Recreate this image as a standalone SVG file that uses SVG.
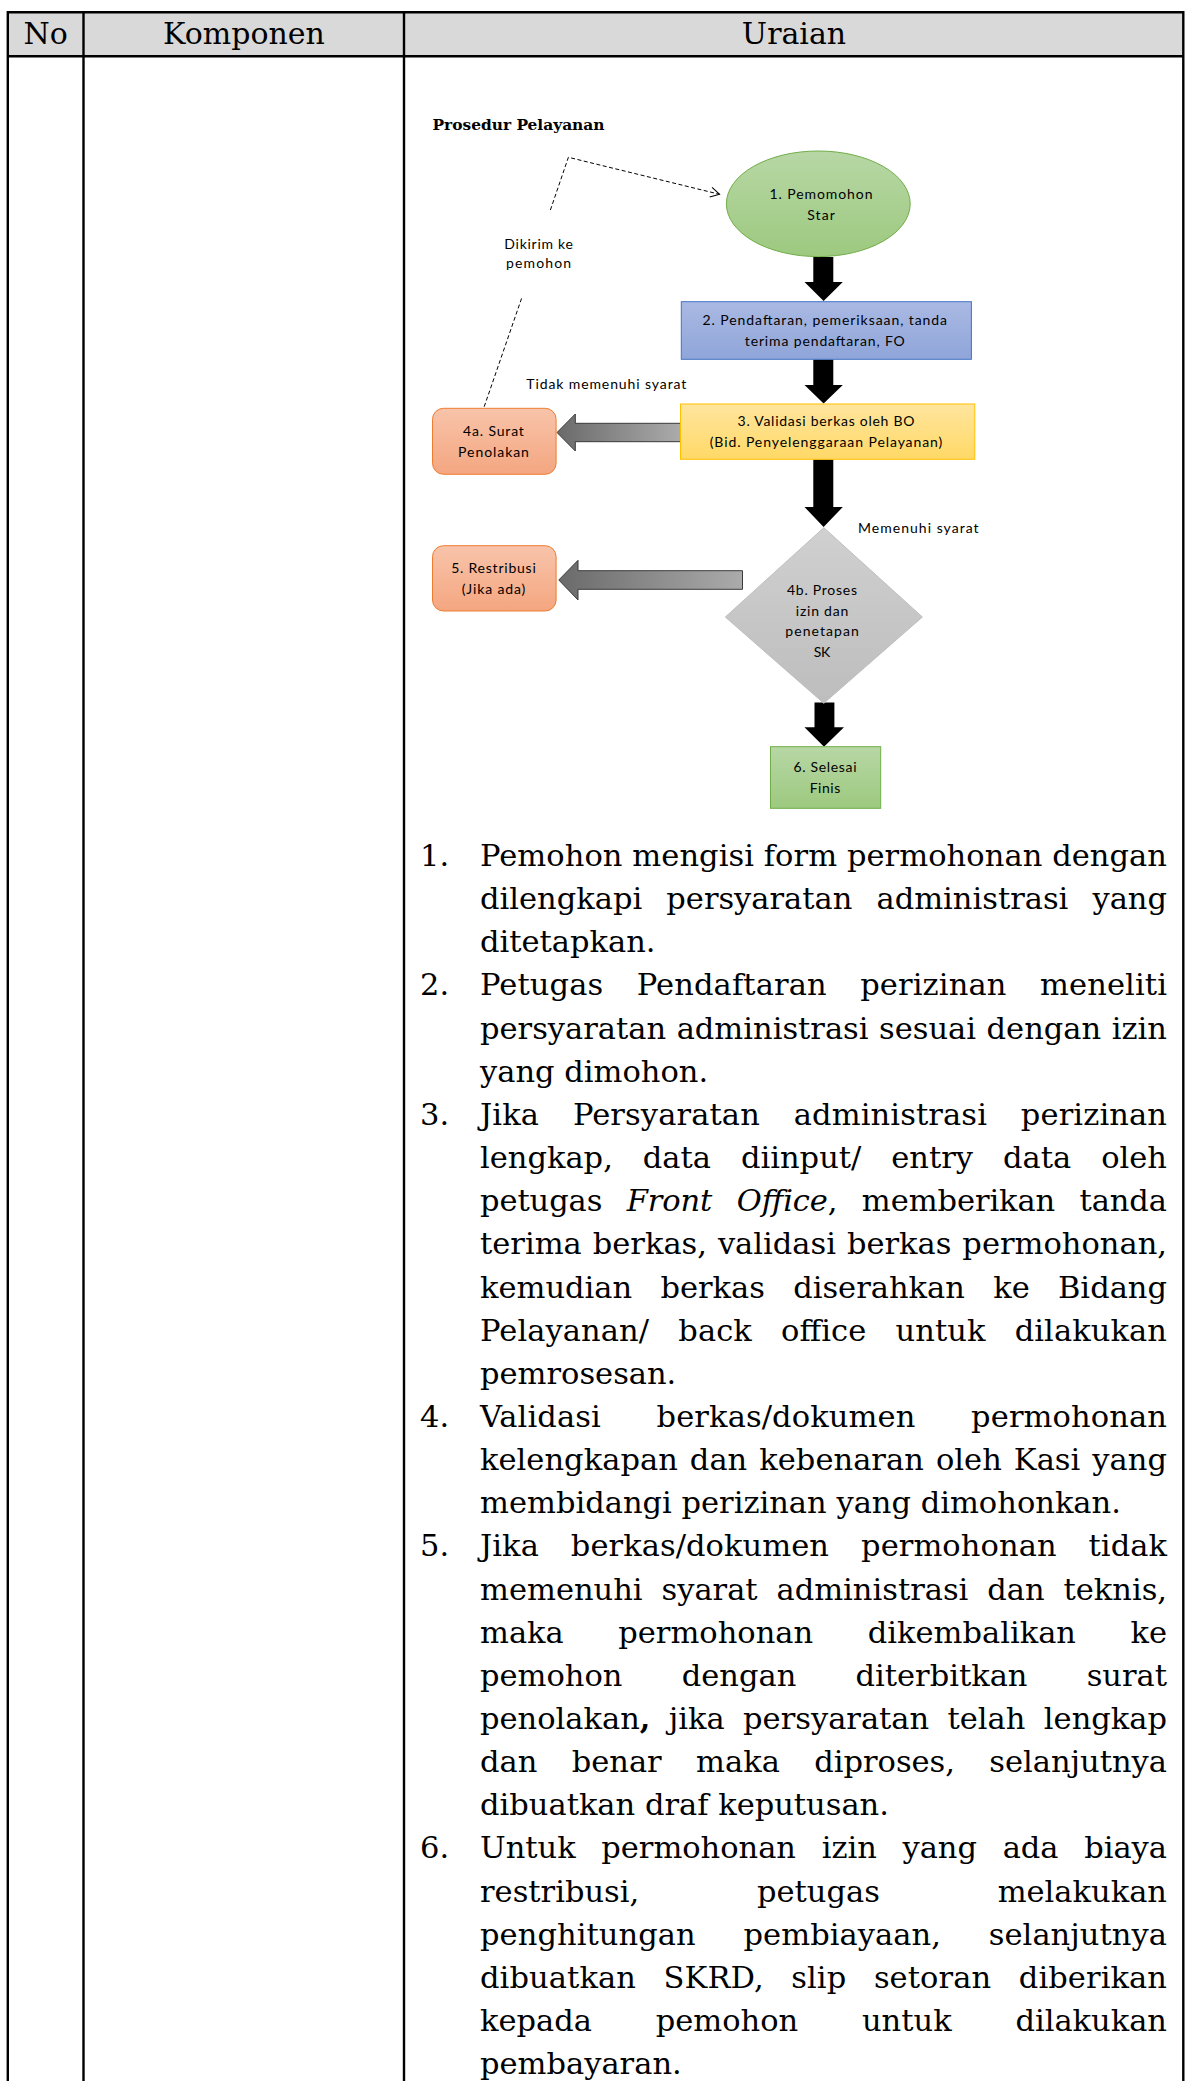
<svg xmlns="http://www.w3.org/2000/svg" width="1186" height="2081" viewBox="0 0 1186 2081">
<style>
.hd{font-family:"DejaVu Serif","Liberation Serif",serif;font-size:30px;fill:#000;text-anchor:middle}
.b{font-family:"DejaVu Serif","Liberation Serif",serif;font-size:30.5px;fill:#000}
.n{font-family:Lato,"Open Sans","Liberation Sans",sans-serif;font-size:14px;fill:#000;text-anchor:middle}
.ttl{font-family:"DejaVu Serif","Liberation Serif",serif;font-size:15px;font-weight:bold;fill:#000}
.grid{stroke:#000;stroke-width:2.4;fill:none}
.dash{stroke:#000;stroke-width:1;fill:none;stroke-dasharray:4 2.5}
.blk{fill:#000}
.gry{fill:url(#gArrow);stroke:#3a3a3a;stroke-width:1}
</style>
<defs>
<linearGradient id="gGreen" x1="0" y1="0" x2="0" y2="1"><stop offset="0" stop-color="#b7d7a5"/><stop offset="1" stop-color="#9dc97f"/></linearGradient>
<linearGradient id="gBlue" x1="0" y1="0" x2="0" y2="1"><stop offset="0" stop-color="#aab9e3"/><stop offset="1" stop-color="#8fa5d9"/></linearGradient>
<linearGradient id="gYellow" x1="0" y1="0" x2="0" y2="1"><stop offset="0" stop-color="#ffe59e"/><stop offset="1" stop-color="#ffd966"/></linearGradient>
<linearGradient id="gSalmon" x1="0" y1="0" x2="0" y2="1"><stop offset="0" stop-color="#f8c4aa"/><stop offset="1" stop-color="#f4a680"/></linearGradient>
<linearGradient id="gGray" x1="0" y1="0" x2="0" y2="1"><stop offset="0" stop-color="#d0d0d0"/><stop offset="1" stop-color="#bdbdbd"/></linearGradient>
<linearGradient id="gArrow" x1="0" y1="0" x2="1" y2="0"><stop offset="0" stop-color="#6a6a6a"/><stop offset="1" stop-color="#ababab"/></linearGradient>
<marker id="openArrow" markerWidth="12" markerHeight="12" refX="10" refY="6" orient="auto" markerUnits="userSpaceOnUse">
<path d="M1,1 L10,6 L1,11" fill="none" stroke="#000" stroke-width="1"/>
</marker>
</defs>

<g id="table">
<rect x="7.8" y="12.2" width="1175.5" height="44" fill="#d9d9d9"/>
<line class="grid" x1="7.8" y1="12.2" x2="1183.3" y2="12.2"/>
<line class="grid" x1="7.8" y1="56.2" x2="1183.3" y2="56.2"/>
<line class="grid" x1="7.8" y1="11" x2="7.8" y2="2081"/>
<line class="grid" x1="83.5" y1="12" x2="83.5" y2="2081"/>
<line class="grid" x1="404" y1="12" x2="404" y2="2081"/>
<line class="grid" x1="1183.3" y1="11" x2="1183.3" y2="2081"/>
<text class="hd" x="45.6" y="44">No</text>
<text class="hd" x="244" y="44">Komponen</text>
<text class="hd" x="794" y="44">Uraian</text>
</g>

<text class="ttl" x="432.5" y="130" textLength="172" lengthAdjust="spacingAndGlyphs">Prosedur Pelayanan</text>

<g id="connectors">
<polygon class="blk" points="813.3,257 833.3,257 833.3,282 842.8,282 823.6,301 804.5,282 813.3,282"/>
<polygon class="blk" points="813.3,359.5 833.3,359.5 833.3,385 842.8,385 823.6,403.5 804.5,385 813.3,385"/>
<polygon class="blk" points="813.3,459.5 833.3,459.5 833.3,507 842.8,507 823.6,527 804.5,507 813.3,507"/>
<polygon class="blk" points="814.5,702.5 834.4,702.5 834.4,727.3 844,727.3 824,746.7 804.5,727.3 814.5,727.3"/>
<polygon class="gry" points="557,432.5 575.3,414 575.3,423.3 681,423.3 681,441.7 575.3,441.7 575.3,451"/>
<polygon class="gry" points="558.8,580 578,560.3 578,570.7 742.5,570.7 742.5,589.3 578,589.3 578,600"/>
<line class="dash" x1="484.2" y1="406.7" x2="521.7" y2="298"/>
<polyline class="dash" points="550.4,210 568.4,157.3 719.6,194.3" marker-end="url(#openArrow)"/>
<text class="n" x="538.6" y="248.5" textLength="68.5" lengthAdjust="spacing">Dikirim ke</text>
<text class="n" x="538.6" y="268" textLength="65" lengthAdjust="spacing">pemohon</text>
<text class="n" x="606.3" y="388.5" textLength="160" lengthAdjust="spacing">Tidak memenuhi syarat</text>
<text class="n" x="918.3" y="533" textLength="120.6" lengthAdjust="spacing">Memenuhi syarat</text>
</g>

<g id="node1">
<ellipse cx="818.3" cy="203.8" rx="91.9" ry="52.8" fill="url(#gGreen)" stroke="#70ad47" stroke-width="1"/>
<text class="n" x="821" y="198.5" textLength="103" lengthAdjust="spacing">1. Pemomohon</text>
<text class="n" x="821" y="219.5" textLength="27.6" lengthAdjust="spacing">Star</text>
</g>

<g id="node2">
<rect x="681.3" y="301.7" width="290.1" height="57.6" fill="url(#gBlue)" stroke="#4472c4" stroke-width="1"/>
<text class="n" x="824.8" y="325" textLength="244.5" lengthAdjust="spacing">2. Pendaftaran, pemeriksaan, tanda</text>
<text class="n" x="824.8" y="346" textLength="160" lengthAdjust="spacing">terima pendaftaran, FO</text>
</g>

<g id="node3">
<rect x="680.5" y="404" width="294.3" height="55.3" fill="url(#gYellow)" stroke="#ffc000" stroke-width="1"/>
<text class="n" x="826" y="426" textLength="176.8" lengthAdjust="spacing">3. Validasi berkas oleh BO</text>
<text class="n" x="826" y="447" textLength="232.7" lengthAdjust="spacing">(Bid. Penyelenggaraan Pelayanan)</text>
</g>

<g id="node4a">
<rect x="432.5" y="408.3" width="123.6" height="66" rx="11" ry="11" fill="url(#gSalmon)" stroke="#ed7d31" stroke-width="1"/>
<text class="n" x="493.5" y="436" textLength="60.8" lengthAdjust="spacing">4a. Surat</text>
<text class="n" x="493.5" y="457" textLength="70.8" lengthAdjust="spacing">Penolakan</text>
</g>

<g id="node4b">
<polygon points="823.8,527.7 922.4,617 823.8,703.3 725.3,617" fill="url(#gGray)" stroke="#bfbfbf" stroke-width="1"/>
<text class="n" x="822" y="595" textLength="70" lengthAdjust="spacing">4b. Proses</text>
<text class="n" x="822" y="615.5" textLength="52.4" lengthAdjust="spacing">izin dan</text>
<text class="n" x="822" y="636" textLength="73.5" lengthAdjust="spacing">penetapan</text>
<text class="n" x="822" y="657" textLength="16.5" lengthAdjust="spacing">SK</text>
</g>

<g id="node5">
<rect x="432.5" y="545.7" width="123.6" height="65.3" rx="11" ry="11" fill="url(#gSalmon)" stroke="#ed7d31" stroke-width="1"/>
<text class="n" x="493.5" y="573" textLength="84.6" lengthAdjust="spacing">5. Restribusi</text>
<text class="n" x="493.5" y="593.5" textLength="63.5" lengthAdjust="spacing">(Jika ada)</text>
</g>

<g id="node6">
<rect x="770.5" y="746.7" width="110.2" height="61.6" fill="url(#gGreen)" stroke="#70ad47" stroke-width="1"/>
<text class="n" x="825" y="772" textLength="63.1" lengthAdjust="spacing">6. Selesai</text>
<text class="n" x="825" y="792.5" textLength="30.6" lengthAdjust="spacing">Finis</text>
</g>

<g id="uraian-text">
<text class="b" x="420" y="866">1.</text>
<text class="b" x="480" y="866" textLength="687" lengthAdjust="spacing">Pemohon mengisi form permohonan dengan</text>
<text class="b" x="480" y="909.15" textLength="687" lengthAdjust="spacing" style="word-spacing:14.4px">dilengkapi persyaratan administrasi yang</text>
<text class="b" x="480" y="952.3">ditetapkan.</text>
<text class="b" x="420" y="995.45">2.</text>
<text class="b" x="480" y="995.45" textLength="687" lengthAdjust="spacing" style="word-spacing:23.6px">Petugas Pendaftaran perizinan meneliti</text>
<text class="b" x="480" y="1038.6" textLength="687" lengthAdjust="spacing" style="word-spacing:0.9px">persyaratan administrasi sesuai dengan izin</text>
<text class="b" x="480" y="1081.75">yang dimohon.</text>
<text class="b" x="420" y="1124.9">3.</text>
<text class="b" x="480" y="1124.9" textLength="687" lengthAdjust="spacing" style="word-spacing:24px">Jika Persyaratan administrasi perizinan</text>
<text class="b" x="480" y="1168.05" textLength="687" lengthAdjust="spacing" style="word-spacing:20.3px">lengkap, data diinput/ entry data oleh</text>
<text class="b" x="480" y="1211.2" textLength="687" lengthAdjust="spacing" style="word-spacing:14.8px">petugas <tspan font-style="italic">Front Office</tspan>, memberikan tanda</text>
<text class="b" x="480" y="1254.35" textLength="687" lengthAdjust="spacing" style="word-spacing:1.3px">terima berkas, validasi berkas permohonan,</text>
<text class="b" x="480" y="1297.5" textLength="687" lengthAdjust="spacing" style="word-spacing:18.6px">kemudian berkas diserahkan ke Bidang</text>
<text class="b" x="480" y="1340.65" textLength="687" lengthAdjust="spacing" style="word-spacing:19.3px">Pelayanan/ back office untuk dilakukan</text>
<text class="b" x="480" y="1383.8">pemrosesan.</text>
<text class="b" x="420" y="1426.95">4.</text>
<text class="b" x="480" y="1426.95" textLength="687" lengthAdjust="spacing" style="word-spacing:45.9px">Validasi berkas/dokumen permohonan</text>
<text class="b" x="480" y="1470.1" textLength="687" lengthAdjust="spacing" style="word-spacing:2.3px">kelengkapan dan kebenaran oleh Kasi yang</text>
<text class="b" x="480" y="1513.25">membidangi perizinan yang dimohonkan.</text>
<text class="b" x="420" y="1556.4">5.</text>
<text class="b" x="480" y="1556.4" textLength="687" lengthAdjust="spacing" style="word-spacing:22.2px">Jika berkas/dokumen permohonan tidak</text>
<text class="b" x="480" y="1599.55" textLength="687" lengthAdjust="spacing" style="word-spacing:9.2px">memenuhi syarat administrasi dan teknis,</text>
<text class="b" x="480" y="1642.7" textLength="687" lengthAdjust="spacing" style="word-spacing:44.8px">maka permohonan dikembalikan ke</text>
<text class="b" x="480" y="1685.85" textLength="687" lengthAdjust="spacing" style="word-spacing:49.5px">pemohon dengan diterbitkan surat</text>
<text class="b" x="480" y="1729" textLength="687" lengthAdjust="spacing" style="word-spacing:8.7px">penolakan<tspan font-weight="bold">,</tspan> jika persyaratan telah lengkap</text>
<text class="b" x="480" y="1772.15" textLength="687" lengthAdjust="spacing" style="word-spacing:24.7px">dan benar maka diproses, selanjutnya</text>
<text class="b" x="480" y="1815.3">dibuatkan draf keputusan.</text>
<text class="b" x="420" y="1858.45">6.</text>
<text class="b" x="480" y="1858.45" textLength="687" lengthAdjust="spacing" style="word-spacing:16.1px">Untuk permohonan izin yang ada biaya</text>
<text class="b" x="480" y="1901.6" textLength="687" lengthAdjust="spacing" style="word-spacing:108.1px">restribusi, petugas melakukan</text>
<text class="b" x="480" y="1944.75" textLength="687" lengthAdjust="spacing" style="word-spacing:38.1px">penghitungan pembiayaan, selanjutnya</text>
<text class="b" x="480" y="1987.9" textLength="687" lengthAdjust="spacing" style="word-spacing:17.8px">dibuatkan SKRD, slip setoran diberikan</text>
<text class="b" x="480" y="2031.05" textLength="687" lengthAdjust="spacing" style="word-spacing:54.1px">kepada pemohon untuk dilakukan</text>
<text class="b" x="480" y="2074.2">pembayaran.</text>
</g>
</svg>
